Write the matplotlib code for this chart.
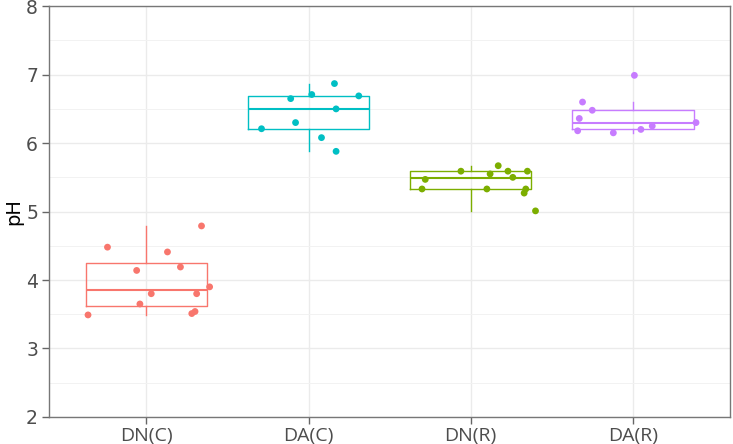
import matplotlib
matplotlib.use("Agg")
import matplotlib.pyplot as plt
from matplotlib.ticker import MultipleLocator

# groups and colours (ggplot default hues)
groups = ["DN(C)", "DA(C)", "DN(R)", "DA(R)"]
colors = ["#F8766D", "#00BFC4", "#7CAE00", "#C77CFF"]

# pH values
ph_dnc = [3.49, 4.48, 4.14, 3.65, 3.80, 4.41, 4.19, 4.79, 3.80, 3.90, 3.51, 3.54]
ph_dac = [6.87, 6.71, 6.65, 6.69, 6.50, 6.30, 6.21, 6.08, 5.88]
ph_dnr = [5.47, 5.33, 5.59, 5.33, 5.55, 5.67, 5.59, 5.50, 5.59, 5.33, 5.27, 5.01]
ph_dar = [6.99, 6.60, 6.48, 6.36, 6.18, 6.15, 6.20, 6.25, 6.30]

# horizontal jitter of each point (category units), as seen in the picture
jit_dnc = [-0.36, -0.24, -0.06, -0.04, 0.03, 0.13, 0.21, 0.34, 0.31, 0.39, 0.28, 0.30]
jit_dac = [0.16, 0.02, -0.11, 0.31, 0.17, -0.08, -0.29, 0.08, 0.17]
jit_dnr = [-0.28, -0.30, -0.06, 0.10, 0.12, 0.17, 0.23, 0.26, 0.35, 0.34, 0.33, 0.40]
jit_dar = [0.01, -0.31, -0.25, -0.33, -0.34, -0.12, 0.05, 0.12, 0.39]

values = [ph_dnc, ph_dac, ph_dnr, ph_dar]
jitters = [jit_dnc, jit_dac, jit_dnr, jit_dar]

fig = plt.figure(figsize=(7.33, 4.44), dpi=100)
ax = fig.add_axes([0.067, 0.061, 0.929, 0.925])

positions = list(range(1, len(groups) + 1))
for pos, vals, jit, col in zip(positions, values, jitters, colors):
    ax.boxplot(vals, positions=[pos], widths=0.75, showfliers=False,
               boxprops=dict(color=col, linewidth=1.0),
               medianprops=dict(color=col, linewidth=1.5),
               whiskerprops=dict(color=col, linewidth=1.0),
               capprops=dict(visible=False), zorder=3)
    ax.scatter([pos + j for j in jit], vals, s=24, color=col,
               edgecolors="none", zorder=4)

ax.set_xlim(0.4, 4.6)
ax.set_ylim(2, 8)
ax.set_xticks(positions)
ax.set_xticklabels(groups, family="Open Sans", fontsize=14, color="#4D4D4D")
ax.yaxis.set_major_locator(MultipleLocator(1))
ax.yaxis.set_minor_locator(MultipleLocator(0.5))
ax.tick_params(axis="y", which="major", labelsize=13.5, labelcolor="#4D4D4D",
               length=5, width=1, color="#666666", pad=3)
ax.tick_params(axis="y", which="minor", length=0)
ax.tick_params(axis="x", length=5, width=1, color="#666666", pad=2)
ax.set_ylabel("pH", fontsize=14, labelpad=2)

ax.grid(True, which="major", color="#EBEBEB", linewidth=1.0, zorder=0)
ax.grid(True, which="minor", axis="y", color="#F2F2F2", linewidth=0.7, zorder=0)
ax.set_axisbelow(True)
for sp in ax.spines.values():
    sp.set_color("#777777")
    sp.set_linewidth(1.0)

fig.savefig("out.png", dpi=100)
